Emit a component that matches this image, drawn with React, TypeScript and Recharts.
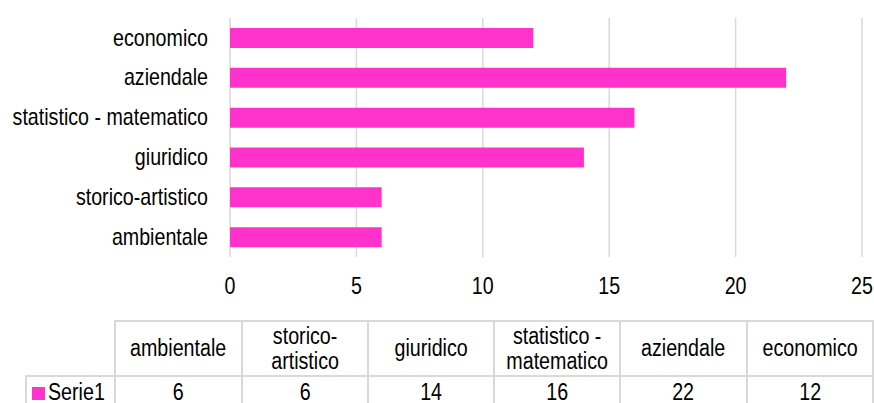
import { BarChart, Bar, XAxis, YAxis, CartesianGrid } from 'recharts'

const categories = ['ambientale', 'storico-artistico', 'giuridico', 'statistico - matematico', 'aziendale', 'economico']
const serie1 = [6, 6, 14, 16, 22, 12]
const xTicks = [0, 5, 10, 15, 20, 25]
const seriesName = 'Serie1'

const PINK = '#ff33cc'
const GRID = '#d9d9d9'
const FONT = "'Liberation Sans', Arial, sans-serif"
const FONT_SIZE = 23
const SQUEEZE = 0.855 // no Arial Narrow here, so squeeze Liberation Sans

// Excel draws the first category at the bottom, so reverse for the chart
const data = categories.map((name, i) => ({ name, value: serie1[i] })).reverse()

const cellBorder = `2px solid ${GRID}`

function NarrowTick(props: any) {
  const { x, y, payload, textAnchor, dy } = props
  return (
    <g transform={`translate(${x},${y}) scale(${SQUEEZE},1)`}>
      <text x={0} y={0} dy={dy} textAnchor={textAnchor} fontSize={FONT_SIZE} fill="#000" fontFamily={FONT}>
        {payload.value}
      </text>
    </g>
  )
}

function YTick(props: any) {
  return <NarrowTick {...props} dy="0.33em" textAnchor="end" />
}

function XTick(props: any) {
  return <NarrowTick {...props} dy="0.71em" textAnchor="middle" />
}

const squeezed = { transform: `scaleX(${SQUEEZE})` }

export default function App() {
  return (
    <div style={{ position: 'fixed', top: 0, left: 0, width: 874, height: 403, background: '#fff', fontFamily: FONT, overflow: 'hidden' }}>
      <BarChart
        width={874}
        height={310}
        data={data}
        layout="vertical"
        margin={{ top: 18, right: 12, bottom: 23, left: 0 }}
        barSize={20}
      >
        <CartesianGrid horizontal={false} stroke={GRID} strokeWidth={1.5} />
        <XAxis
          type="number"
          domain={[0, 25]}
          ticks={xTicks}
          axisLine={false}
          tickLine={false}
          tickMargin={15}
          height={30}
          tick={<XTick />}
        />
        <YAxis
          type="category"
          dataKey="name"
          width={230}
          axisLine={false}
          tickLine={false}
          tickMargin={16}
          tick={<YTick />}
        />
        <Bar dataKey="value" fill={PINK} isAnimationActive={false} />
      </BarChart>
      <table
        style={{
          position: 'absolute',
          top: 320,
          left: 25,
          borderCollapse: 'collapse',
          fontSize: FONT_SIZE,
          fontFamily: FONT,
          tableLayout: 'fixed',
          textAlign: 'center',
          lineHeight: '25px',
        }}
      >
        <colgroup>
          <col style={{ width: 89 }} />
          {categories.map((c) => (
            <col key={c} style={{ width: 126.3 }} />
          ))}
        </colgroup>
        <tbody>
          <tr style={{ height: 55 }}>
            <td style={{ border: 'none' }} />
            {categories.map((c) => (
              <td key={c} style={{ border: cellBorder, padding: 0 }}>
                <div style={squeezed}>{c}</div>
              </td>
            ))}
          </tr>
          <tr style={{ height: 32 }}>
            <td style={{ border: cellBorder, textAlign: 'left', padding: '0 0 0 5px', whiteSpace: 'nowrap' }}>
              <span style={{ display: 'inline-block', width: 13, height: 13, background: PINK, marginRight: 3 }} />
              <span style={{ display: 'inline-block', transform: `scaleX(${SQUEEZE})`, transformOrigin: 'left center' }}>
                {seriesName}
              </span>
            </td>
            {serie1.map((v, i) => (
              <td key={i} style={{ border: cellBorder, padding: 0 }}>
                <div style={squeezed}>{v}</div>
              </td>
            ))}
          </tr>
        </tbody>
      </table>
    </div>
  )
}
